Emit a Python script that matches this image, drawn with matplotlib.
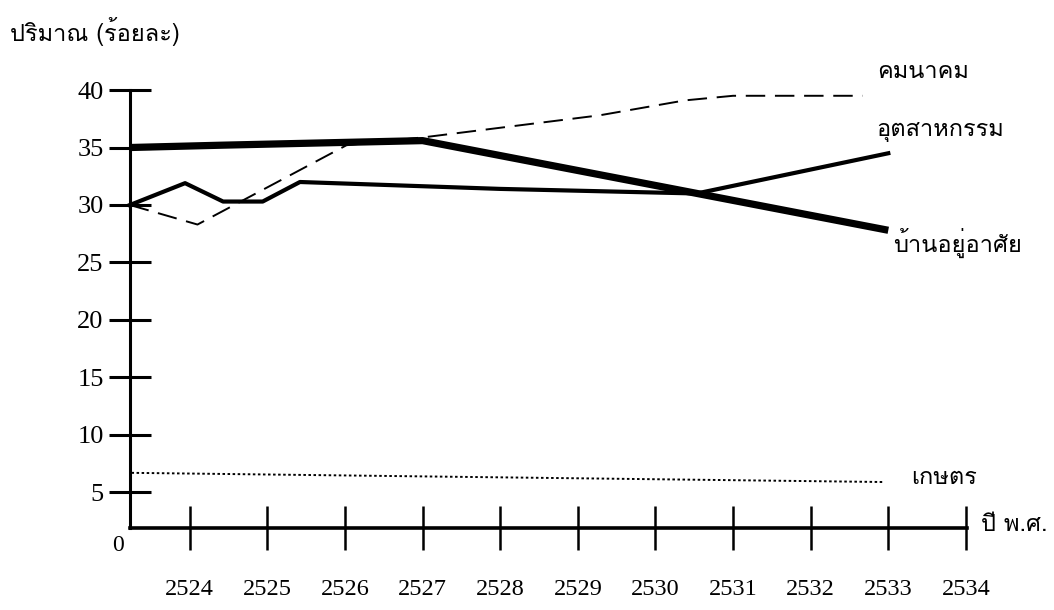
import matplotlib
matplotlib.use('Agg')
import matplotlib.pyplot as plt
from matplotlib import font_manager
from matplotlib.ft2font import FT2Font


def thai_family():
    # first installed font that has Thai glyphs
    for f in font_manager.fontManager.ttflist:
        try:
            if 0x0E01 in FT2Font(f.fname).get_charmap():
                return f.name
        except Exception:
            pass
    return 'DejaVu Sans'


THAI = thai_family()

# data (x = Buddhist year, y = percent)
years = [2524, 2525, 2526, 2527, 2528, 2529, 2530, 2531, 2532, 2533, 2534]

home_x = [2523.23, 2524.4, 2527.0, 2533.0]
home_y = [35.0, 35.2, 35.6, 27.8]

industry_x = [2523.23, 2523.94, 2524.43, 2524.94, 2525.42, 2528.0, 2530.53, 2533.0]
industry_y = [30.0, 31.9, 30.3, 30.3, 32.0, 31.4, 31.0, 34.5]

transport_x = [2523.23, 2524.1, 2526.02, 2527.03, 2529.28, 2530.38, 2531.0, 2532.67]
transport_y = [30.0, 28.3, 35.2, 35.9, 37.8, 39.1, 39.5, 39.5]

farm_x = [2523.25, 2532.95]
farm_y = [6.7, 5.9]

f = plt.figure(figsize=(10.54, 6.1), dpi=100)
ax = f.add_axes([0.1233, 0.1344, 0.7946, 0.7180])

ax.plot(home_x, home_y, color='black', lw=5.2, solid_capstyle='butt', clip_on=False)
ax.plot(industry_x, industry_y, color='black', lw=3.0, clip_on=False)
ax.plot(transport_x, transport_y, color='black', lw=1.4, dashes=(10, 5), clip_on=False)
ax.plot(farm_x, farm_y, color='black', lw=1.4, dashes=(1.3, 1.3), clip_on=False)

ax.set_xlim(2523.23, 2534.02)
ax.set_ylim(1.9, 40)

for s in ['top', 'right']:
    ax.spines[s].set_visible(False)
ax.spines['left'].set_linewidth(2.2)
ax.spines['bottom'].set_linewidth(2.6)

ax.set_xticks(years)
ax.set_xticklabels([str(y) for y in years], fontfamily='Liberation Serif', fontsize=17.5)
ax.set_yticks(range(5, 41, 5))
ax.set_yticklabels([str(v) for v in range(5, 41, 5)], fontfamily='Liberation Serif', fontsize=19)
ax.tick_params(axis='x', direction='inout', length=32, width=1.8, pad=21)
ax.tick_params(axis='y', direction='inout', length=30, width=2.2, pad=4)

ax.text(2523.07, 0.4, '0', fontfamily='Liberation Serif', fontsize=17,
        ha='center', va='center', clip_on=False)

tk = dict(fontfamily=THAI, fontsize=17, ha='left', va='center', clip_on=False)
ax.text(2532.85, 41.6, 'คมนาคม', **tk)
ax.text(2532.84, 36.5, 'อุตสาหกรรม', **tk)
ax.text(2533.06, 26.7, 'บ้านอยู่อาศัย', **tk)
ax.text(2533.3, 6.26, 'เกษตร', **tk)
ax.text(2534.2, 2.17, 'ปี พ.ศ.', **tk)

f.text(10 / 1054, 1 - 32 / 610, 'ปริมาณ (ร้อยละ)', fontfamily=THAI, fontsize=17,
       ha='left', va='center')

f.savefig('out.png', dpi=100)
